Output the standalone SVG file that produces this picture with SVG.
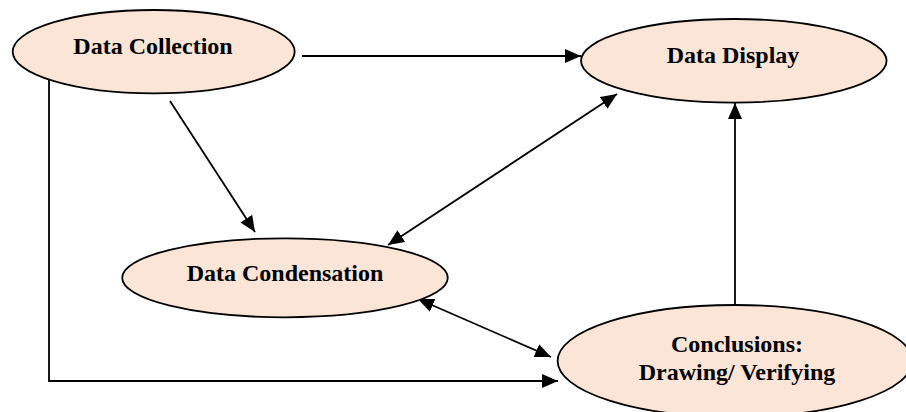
<svg xmlns="http://www.w3.org/2000/svg" width="906" height="412" viewBox="0 0 906 412">
<style>
.node ellipse { fill: #FBE5D6; stroke: #000; stroke-width: 1.8; }
.node text { font-family: "Liberation Serif", "Times New Roman", serif; font-weight: bold; font-size: 24px; fill: #000; text-anchor: middle; }
.conn path { fill: none; stroke: #000; stroke-width: 1.8; }
</style>
<defs>
<marker id="ah" markerUnits="userSpaceOnUse" markerWidth="17" markerHeight="15" refX="16" refY="7" orient="auto-start-reverse" viewBox="0 0 17 15">
<path d="M0,0 L16,7 L0,14 z" fill="#000"/>
</marker>
</defs>
<rect width="906" height="412" fill="#fff"/>
<g id="connectors" class="conn">
<path d="M302,56 L581,56" marker-end="url(#ah)"/>
<path d="M170,101 L255,232" marker-end="url(#ah)"/>
<path d="M388,245 L617,94" marker-start="url(#ah)" marker-end="url(#ah)"/>
<path d="M418,299 L551,357" marker-start="url(#ah)" marker-end="url(#ah)"/>
<path d="M735,304 L735,103" marker-end="url(#ah)"/>
<path d="M49,78 L49,381 L558,381" marker-end="url(#ah)"/>
</g>
<g id="data-collection" class="node">
<ellipse cx="153.7" cy="51.7" rx="141" ry="41.7"/>
<text x="153" y="54">Data Collection</text>
</g>
<g id="data-display" class="node">
<ellipse cx="733.8" cy="60.8" rx="152.8" ry="41.8"/>
<text x="733" y="63">Data Display</text>
</g>
<g id="data-condensation" class="node">
<ellipse cx="285" cy="277.8" rx="162.8" ry="39.5"/>
<text x="285" y="281">Data Condensation</text>
</g>
<g id="conclusions" class="node">
<ellipse cx="735" cy="361" rx="177.4" ry="56"/>
<text x="737" y="352">Conclusions:</text>
<text x="737" y="380">Drawing/ Verifying</text>
</g>
</svg>
